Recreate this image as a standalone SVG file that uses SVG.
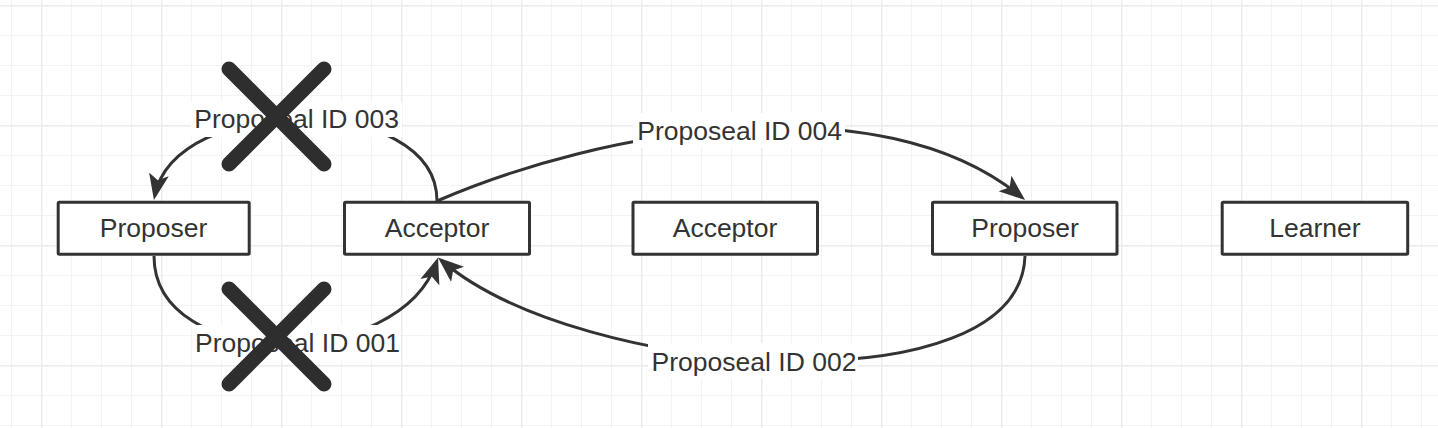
<svg xmlns="http://www.w3.org/2000/svg" width="1438" height="428" viewBox="0 0 1438 428">
  <style>
    .node rect { fill: #ffffff; stroke: #333333; stroke-width: 3; }
    .node text, .label text { font-family: "Liberation Sans", Arial, sans-serif; font-size: 26.5px; fill: #333333; text-anchor: middle; }
    .label rect { fill: #ffffff; }
    .edge { fill: none; stroke: #333333; stroke-width: 3; marker-end: url(#arr); }
    .cross line { stroke: #2e2e2e; stroke-width: 15; stroke-linecap: round; }
  </style>
  <defs>
    <pattern id="grid" patternUnits="userSpaceOnUse" x="41" y="5" width="120" height="120">
      <rect x="0" y="0" width="120" height="120" fill="#ffffff"/>
      <g fill="#f3f3f3">
        <rect x="30" y="0" width="1" height="120"/>
        <rect x="60" y="0" width="1" height="120"/>
        <rect x="90" y="0" width="1" height="120"/>
        <rect x="0" y="30" width="120" height="1"/>
        <rect x="0" y="60" width="120" height="1"/>
        <rect x="0" y="90" width="120" height="1"/>
      </g>
      <g fill="#ebebeb">
        <rect x="0" y="0" width="1.5" height="120"/>
        <rect x="0" y="0" width="120" height="1.5"/>
      </g>
    </pattern>
    <marker id="arr" markerUnits="userSpaceOnUse" markerWidth="28" markerHeight="22" viewBox="0 0 28 22" refX="22" refY="11" orient="auto">
      <path d="M0,1 L26,11 L0,21 L6,11 Z" fill="#333333"/>
    </marker>
  </defs>

  <rect x="0" y="0" width="1438" height="428" fill="url(#grid)"/>

  <g id="connectors">
    <path class="edge" d="M437 201 C437 92 175 92 154.7 196"/>
    <path class="edge" d="M154 256 C154 372 400 372 436.8 261.3"/>
    <path class="edge" d="M437 201 C600 130 880 80 1022 197.5"/>
    <path class="edge" d="M1025 256 C1020 410 580 380 441 260"/>
  </g>

  <g id="node-proposer-1" class="node">
    <rect x="58.2" y="202.2" width="191" height="52" rx="1"/>
    <text x="153.5" y="237">Proposer</text>
  </g>
  <g id="node-acceptor-1" class="node">
    <rect x="344.5" y="202.2" width="185" height="52" rx="1"/>
    <text x="437" y="237">Acceptor</text>
  </g>
  <g id="node-acceptor-2" class="node">
    <rect x="633" y="202.2" width="184.5" height="52" rx="1"/>
    <text x="725" y="237">Acceptor</text>
  </g>
  <g id="node-proposer-2" class="node">
    <rect x="932.5" y="202.2" width="184.5" height="52" rx="1"/>
    <text x="1025" y="237">Proposer</text>
  </g>
  <g id="node-learner" class="node">
    <rect x="1222.2" y="202.2" width="185.5" height="52" rx="1"/>
    <text x="1315" y="237">Learner</text>
  </g>

  <g id="labels">
    <g id="label-003" class="label">
      <rect x="191" y="102" width="211" height="35"/>
      <text x="296.7" y="127.7">Proposeal ID 003</text>
    </g>
    <g id="label-001" class="label">
      <rect x="195" y="325" width="205" height="35"/>
      <text x="297.5" y="351.7">Proposeal ID 001</text>
    </g>
    <g id="label-004" class="label">
      <rect x="633" y="113" width="212" height="35"/>
      <text x="739.7" y="140">Proposeal ID 004</text>
    </g>
    <g id="label-002" class="label">
      <rect x="648" y="343" width="210" height="35"/>
      <text x="754" y="370.7">Proposeal ID 002</text>
    </g>
  </g>

  <g id="cross-top" class="cross">
    <line x1="229" y1="69" x2="324" y2="164"/>
    <line x1="324" y1="69" x2="229" y2="164"/>
  </g>
  <g id="cross-bottom" class="cross">
    <line x1="229" y1="289" x2="324" y2="384"/>
    <line x1="324" y1="289" x2="229" y2="384"/>
  </g>
</svg>
